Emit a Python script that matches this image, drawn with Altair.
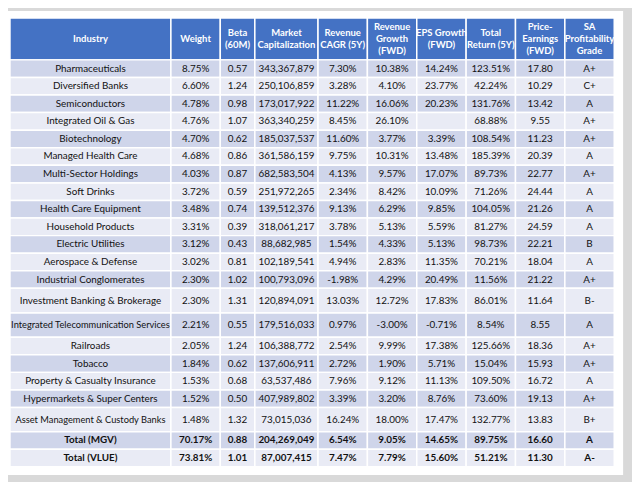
import altair as alt
import pandas as pd

# ---------------- data ----------------
headers = ["Industry", "Weight", "Beta\n(60M)", "Market\nCapitalization", "Revenue\nCAGR (5Y)",
           "Revenue\nGrowth\n(FWD)", "EPS Growth\n(FWD)", "Total\nReturn (5Y)",
           "Price-\nEarnings\n(FWD)", "SA\nProfitability\nGrade"]

industries = ["Pharmaceuticals", "Diversified Banks", "Semiconductors", "Integrated Oil & Gas",
              "Biotechnology", "Managed Health Care", "Multi-Sector Holdings", "Soft Drinks",
              "Health Care Equipment", "Household Products", "Electric Utilities",
              "Aerospace & Defense", "Industrial Conglomerates", "Investment Banking & Brokerage",
              "Integrated Telecommunication Services", "Railroads", "Tobacco",
              "Property & Casualty Insurance", "Hypermarkets & Super Centers",
              "Asset Management & Custody Banks", "Total (MGV)", "Total (VLUE)"]
weight = [8.75, 6.60, 4.78, 4.76, 4.70, 4.68, 4.03, 3.72, 3.48, 3.31, 3.12, 3.02, 2.30, 2.30,
          2.21, 2.05, 1.84, 1.53, 1.52, 1.48, 70.17, 73.81]
beta = [0.57, 1.24, 0.98, 1.07, 0.62, 0.86, 0.87, 0.59, 0.74, 0.39, 0.43, 0.81, 1.02, 1.31,
        0.55, 1.24, 0.62, 0.68, 0.50, 1.32, 0.88, 1.01]
market_cap = [343367879, 250106859, 173017922, 363340259, 185037537, 361586159, 682583504,
              251972265, 139512376, 318061217, 88682985, 102189541, 100793096, 120894091,
              179516033, 106388772, 137606911, 63537486, 407989802, 73015036, 204269049,
              87007415]
rev_cagr = [7.30, 3.28, 11.22, 8.45, 11.60, 9.75, 4.13, 2.34, 9.13, 3.78, 1.54, 4.94, -1.98,
            13.03, 0.97, 2.54, 2.72, 7.96, 3.39, 16.24, 6.54, 7.47]
rev_growth = [10.38, 4.10, 16.06, 26.10, 3.77, 10.31, 9.57, 8.42, 6.29, 5.13, 4.33, 2.83, 4.29,
              12.72, -3.00, 9.99, 1.90, 9.12, 3.20, 18.00, 9.05, 7.79]
eps_growth = [14.24, 23.77, 20.23, None, 3.39, 13.48, 17.07, 10.09, 9.85, 5.59, 5.13, 11.35,
              20.49, 17.83, -0.71, 17.38, 5.71, 11.13, 8.76, 17.47, 14.65, 15.60]
total_return = [123.51, 42.24, 131.76, 68.88, 108.54, 185.39, 89.73, 71.26, 104.05, 81.27,
                98.73, 70.21, 11.56, 86.01, 8.54, 125.66, 15.04, 109.50, 73.60, 132.77,
                89.75, 51.21]
pe_fwd = [17.80, 10.29, 13.42, 9.55, 11.23, 20.39, 22.77, 24.44, 21.26, 24.59, 22.21, 18.04,
          21.22, 11.64, 8.55, 18.36, 15.93, 16.72, 19.13, 13.83, 16.60, 11.30]
grades = ["A+", "C+", "A", "A+", "A+", "A", "A+", "A", "A", "A", "B", "A", "A+", "B-", "A",
          "A+", "A+", "A", "A+", "B+", "A", "A-"]

# ---------------- layout (style constants) ----------------
col_edges = [10, 173, 223, 258, 322, 372, 422, 472, 522, 572, 622]
header_top, header_bottom = 15, 57.5
row_heights = [17.8] * len(industries)
row_heights[13] = 25.0
row_heights[14] = 24.5
row_heights[19] = 24.5
HEADER_BLUE = "#4472C4"
DARK_BAND = "#CFD5EA"
LIGHT_BAND = "#E9EBF5"
FONT = "Lato"
HEADER_FS = 9.6
HEADER_LH = 12
BODY_FS = 10
LONG_FS = 9.4


def pct(v):
    return "" if v is None else f"{v:.2f}%"


cells = []
texts = []
for c in range(10):
    x1, x2 = col_edges[c], col_edges[c + 1]
    cells.append(dict(x1=x1, x2=x2, y1=header_top, y2=header_bottom, fill=HEADER_BLUE))
    n = headers[c].count("\n") + 1
    texts.append(dict(xm=(x1 + x2) / 2,
                      ym=(header_top + header_bottom) / 2 - (n - 1) * HEADER_LH / 2,
                      text=headers[c], kind="header", fs=HEADER_FS))

y = header_bottom
for i, name in enumerate(industries):
    h = row_heights[i]
    fill = DARK_BAND if i % 2 == 0 else LIGHT_BAND
    vals = [name, f"{weight[i]:.2f}%", f"{beta[i]:.2f}", f"{market_cap[i]:,}",
            pct(rev_cagr[i]), pct(rev_growth[i]), pct(eps_growth[i]), pct(total_return[i]),
            f"{pe_fwd[i]:.2f}", grades[i]]
    kind = "bold" if name.startswith("Total") else "normal"
    for c in range(10):
        x1, x2 = col_edges[c], col_edges[c + 1]
        cells.append(dict(x1=x1, x2=x2, y1=y, y2=y + h, fill=fill))
        fs = LONG_FS if (c == 0 and len(vals[c]) > 30) else BODY_FS
        texts.append(dict(xm=(x1 + x2) / 2, ym=y + h / 2, text=vals[c], kind=kind, fs=fs))
    y += h

cells_df = pd.DataFrame(cells)
texts_df = pd.DataFrame(texts)
frame_df = pd.DataFrame([dict(x1=8, x2=631, y1=8, y2=478)])

W, H = 632, 474
xs = alt.Scale(domain=[8, 640], nice=False, zero=False)
ys = alt.Scale(domain=[8, 482], nice=False, zero=False, reverse=True)

frame = alt.Chart(frame_df).mark_rect(color="white").encode(
    x=alt.X("x1:Q", scale=xs, axis=None), x2="x2:Q",
    y=alt.Y("y1:Q", scale=ys, axis=None), y2="y2:Q")

rects = alt.Chart(cells_df).mark_rect(stroke="white", strokeWidth=1.5).encode(
    x=alt.X("x1:Q", scale=xs, axis=None), x2="x2:Q",
    y=alt.Y("y1:Q", scale=ys, axis=None), y2="y2:Q",
    color=alt.Color("fill:N", scale=None, legend=None))


def text_layer(kind, **kw):
    return alt.Chart(texts_df).transform_filter(alt.datum.kind == kind).mark_text(
        align="center", baseline="middle", font=FONT, lineBreak="\n", **kw).encode(
        x=alt.X("xm:Q", scale=xs, axis=None),
        y=alt.Y("ym:Q", scale=ys, axis=None),
        size=alt.Size("fs:Q", scale=None, legend=None),
        text="text:N")


header_text = text_layer("header", color="white", fontWeight="bold", lineHeight=HEADER_LH)
body_text = text_layer("normal", color="#111111")
bold_text = text_layer("bold", color="#111111", fontWeight="bold")

chart = alt.layer(frame, rects, header_text, body_text, bold_text).properties(
    width=W, height=H, autosize=alt.AutoSizeParams(type="none"), padding=0,
    background="#D9D9D9"
).configure_view(stroke=None)

chart.save("out.html", embed_options={"renderer": "svg", "actions": False})
